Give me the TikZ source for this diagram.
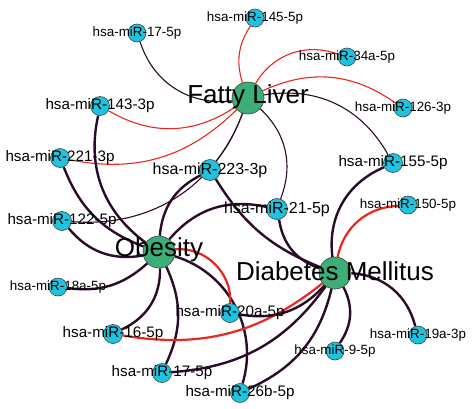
\documentclass[tikz,border=0pt]{standalone}
\usepackage{fontspec}
\setmainfont{Liberation Sans}
\usetikzlibrary{backgrounds}
\definecolor{edk}{HTML}{2A0C2A}
\definecolor{ered}{HTML}{E8281E}
\definecolor{mircol}{HTML}{1EC4DE}
\definecolor{discol}{HTML}{3DAE78}
\begin{document}
\begin{tikzpicture}[x=1pt,y=-1pt,
  mirA/.style={circle,draw=black!75,line width=0.6pt,fill=mircol,minimum size=18pt,inner sep=0pt},
  mirB/.style={mirA,minimum size=19pt},
  mirC/.style={mirA,minimum size=21pt},
  dis/.style={circle,draw=black!75,line width=0.6pt,fill=discol,minimum size=32pt,inner sep=0pt},
  labA/.style={font=\fontsize{13.4}{14}\selectfont,inner sep=0pt},
  labB/.style={font=\fontsize{15.2}{16}\selectfont,inner sep=0pt},
  labC/.style={font=\fontsize{16}{17}\selectfont,inner sep=0pt},
  dlab/.style={font=\fontsize{26}{28}\selectfont,inner sep=0pt},
  fle/.style={line width=1.1pt,edk},
  flr/.style={line width=1.1pt,ered},
  obe/.style={line width=2.4pt,edk},
  obr/.style={line width=2.2pt,ered}]
\useasboundingbox (0,0) rectangle (475,408);
% disease nodes
\node[dis] (fl) at (248,98) {};
\node[dis] (ob) at (159,252) {};
\node[dis] (dm) at (335,273) {};
% miRNA nodes
\node[mirA] (m17a) at (137,33) {};
\node[mirA] (m145) at (255,18) {};
\node[mirA] (m34a) at (347,57) {};
\node[mirA] (m126) at (403,108) {};
\node[mirB] (m143) at (100,106) {};
\node[mirB] (m221) at (60,158) {};
\node[mirC] (m223) at (210,170) {};
\node[mirB] (m122) at (62,221) {};
\node[mirC] (m21) at (277,209) {};
\node[mirB] (m155) at (393,163) {};
\node[mirA] (m150) at (408,205) {};
\node[mirA] (m18a) at (58,287) {};
\node[mirB] (m16) at (113,334) {};
\node[mirB] (m17b) at (162,373) {};
\node[mirB] (m20a) at (230,313) {};
\node[mirB] (m26b) at (240,393) {};
\node[mirA] (m9) at (335,351) {};
\node[mirA] (m19a) at (418,335) {};
% edges
\begin{pgfonlayer}{background}
\fill[white] (0,0) rectangle (475,408);
% Fatty Liver
\draw[fle] (fl) to[bend left=40] (m17a);
\draw[flr] (fl) to[bend left=25] (m145);
\draw[flr] (fl) to[bend left=40] (m34a);
\draw[flr] (fl) to[bend left=30] (m126);
\draw[flr] (fl) to[bend left=32] (m143);
\draw[flr] (fl) to[bend left=28] (m221);
\draw[fle] (fl) to[bend left=8] (m223);
\draw[fle] (fl) to[bend left=37] (m122);
\draw[fle] (fl) to[bend left=34] (m21);
\draw[fle] (fl) to[bend left=35] (m155);
% Obesity
\draw[obe] (ob) to[bend left=33] (m143);
\draw[obe] (ob) to[bend left=24] (m221);
\draw[obe] (ob) to[bend left=30] (m122);
\draw[obe] (ob) to[bend left=25] (m18a);
\draw[obe] (ob) to[bend left=33] (m16);
\draw[obe] (ob) to[bend left=25] (m17b);
\draw[obe] (ob) to[bend left=45] (m26b);
\draw[obr] (ob) to[bend left=50] (m20a);
\draw[obe] (ob) to[bend left=29] (m223);
\draw[obe] (ob) to[bend left=31] (m21);
% Diabetes Mellitus
\draw[obe] (dm) to[bend left=18] (m223);
\draw[obe] (dm) to[bend left=31] (m21);
\draw[obe] (dm) to[bend left=37] (m155);
\draw[obr] (dm) to[bend left=38] (m150);
\draw[obe] (dm) to[bend left=36] (m19a);
\draw[obe] (dm) to[bend left=31] (m9);
\draw[obe] (dm) to[bend left=26] (m26b);
\draw[obe] (dm) to[bend left=25] (m17b);
\draw[obr] (dm) to[bend left=24] (m16);
\draw[obe] (dm) to[bend left=29] (m20a);
\end{pgfonlayer}
% labels
\node[dlab] (tfl) at (248,97) {Fatty Liver};
\node[dlab] (tob) at (159,250) {Obesity};
\node[dlab] (tdm) at (335,271) {Diabetes Mellitus};
\node[labA] (t17a) at (m17a) {hsa-miR-17-5p};
\node[labA] (t145) at (m145) {hsa-miR-145-5p};
\node[labA] (t34a) at (m34a) {hsa-miR-34a-5p};
\node[labA] (t126) at (m126) {hsa-miR-126-3p};
\node[labB] (t143) at (m143) {hsa-miR-143-3p};
\node[labB] (t221) at (m221) {hsa-miR-221-3p};
\node[labC] (t223) at (m223) {hsa-miR-223-3p};
\node[labB] (t122) at (m122) {hsa-miR-122-5p};
\node[labC] (t21) at (m21) {hsa-miR-21-5p};
\node[labB] (t155) at (m155) {hsa-miR-155-5p};
\node[labA] (t150) at (m150) {hsa-miR-150-5p};
\node[labA] (t18a) at (m18a) {hsa-miR-18a-5p};
\node[labB] (t16) at (m16) {hsa-miR-16-5p};
\node[labB] (t17b) at (m17b) {hsa-miR-17-5p};
\node[labB] (t20a) at (m20a) {hsa-miR-20a-5p};
\node[labB] (t26b) at (m26b) {hsa-miR-26b-5p};
\node[labA] (t9) at (m9) {hsa-miR-9-5p};
\node[labA] (t19a) at (m19a) {hsa-miR-19a-3p};
\end{tikzpicture}
\end{document}
